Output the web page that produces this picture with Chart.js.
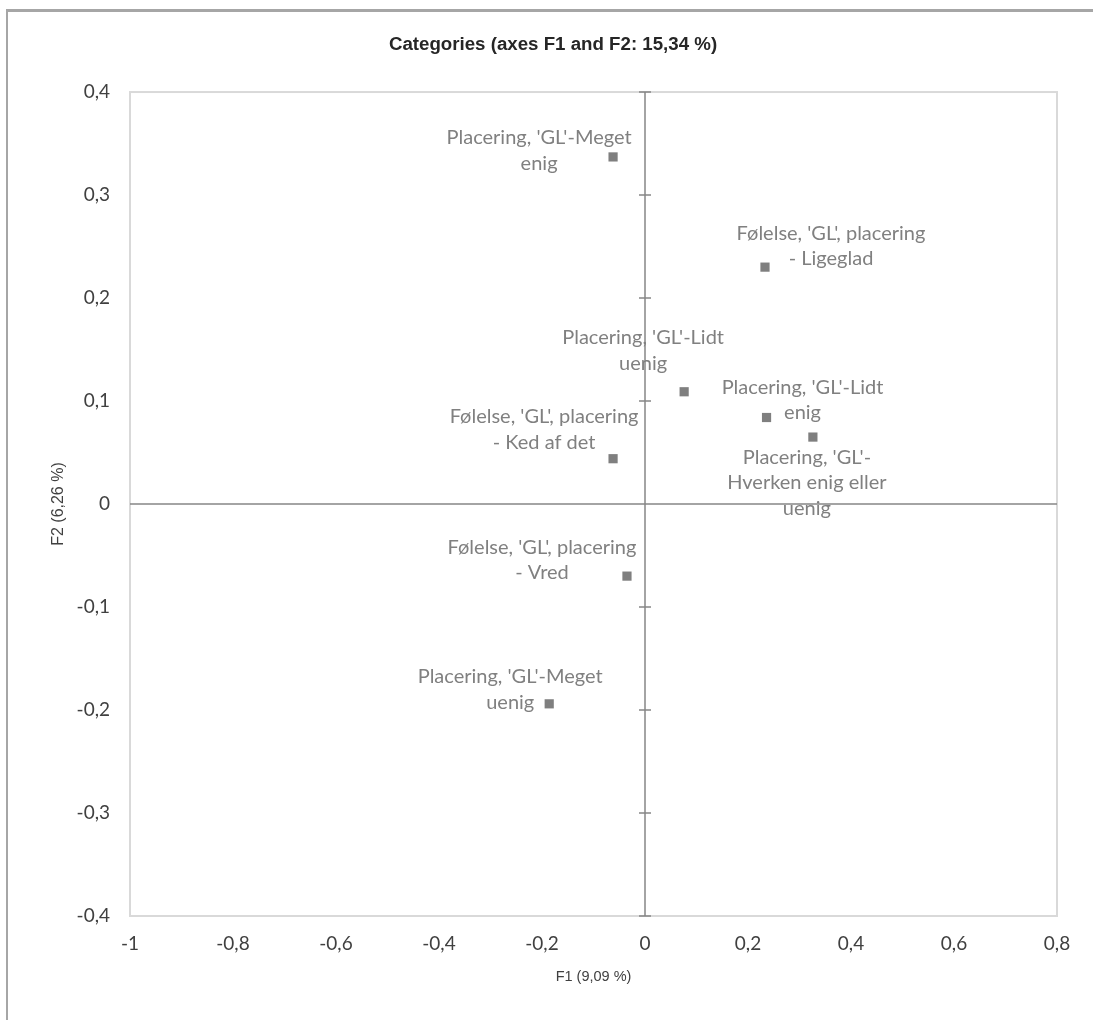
<!DOCTYPE html>
<html>
<head>
<meta charset="utf-8">
<script src="https://cdn.jsdelivr.net/npm/chart.js@4.4.1/dist/chart.umd.min.js"></script>
<style>
  html, body { margin: 0; padding: 0; background: #fff; }
  #wrap { position: relative; width: 1093px; height: 1020px; overflow: hidden; }
  #frame { position: absolute; left: 6px; top: 9px; width: 1200px; height: 1100px;
           border-top: 3px solid #a6a6a6; border-left: 2px solid #a6a6a6; }
  canvas { position: absolute; left: 0; top: 0; }
</style>
</head>
<body>
<div id="wrap">
  <div id="frame"></div>
  <canvas id="chart" width="1093" height="1020"></canvas>
</div>
<script>
// category labels (as wrapped in the original)
const categories = [
  ["Placering, 'GL'-Meget", "enig"],
  ["Følelse, 'GL', placering", "- Ligeglad"],
  ["Placering, 'GL'-Lidt", "uenig"],
  ["Placering, 'GL'-Lidt", "enig"],
  ["Placering, 'GL'-", "Hverken enig eller", "uenig"],
  ["Følelse, 'GL', placering", "- Ked af det"],
  ["Følelse, 'GL', placering", "- Vred"],
  ["Placering, 'GL'-Meget", "uenig"]
];
const f1Values = [-0.062, 0.233, 0.076, 0.236, 0.326, -0.062, -0.035, -0.186];
const f2Values = [0.337, 0.230, 0.109, 0.084, 0.065, 0.044, -0.070, -0.194];

const xTickValues = [-1, -0.8, -0.6, -0.4, -0.2, 0, 0.2, 0.4, 0.6, 0.8];
const xTickLabels = ['-1', '-0,8', '-0,6', '-0,4', '-0,2', '0', '0,2', '0,4', '0,6', '0,8'];
const yTickValues = [-0.4, -0.3, -0.2, -0.1, 0, 0.1, 0.2, 0.3, 0.4];
const yTickLabels = ['-0,4', '-0,3', '-0,2', '-0,1', '0', '0,1', '0,2', '0,3', '0,4'];

// label placement relative to each point: [dx of text centre, dy of first line]
const labelOffsets = [[-74, -19], [66, -34], [-41, -54], [36, -30], [-6, 20], [-69, -42], [-85, -29], [-39, -27]];

const points = f1Values.map((v, i) => ({ x: v, y: f2Values[i] }));

const quadrantPlugin = {
  id: 'quadrant',
  beforeDatasetsDraw(chart) {
    const { ctx, chartArea: a, scales: { x, y } } = chart;
    ctx.save();
    ctx.strokeStyle = '#d9d9d9';
    ctx.lineWidth = 2;
    ctx.strokeRect(a.left, a.top, a.right - a.left, a.bottom - a.top);
    const x0 = x.getPixelForValue(0), y0 = y.getPixelForValue(0);
    ctx.strokeStyle = '#868686';
    ctx.lineWidth = 1.5;
    ctx.beginPath();
    ctx.moveTo(a.left, y0); ctx.lineTo(a.right, y0);
    ctx.moveTo(x0, a.top); ctx.lineTo(x0, a.bottom);
    yTickValues.forEach(v => {
      const py = y.getPixelForValue(v);
      ctx.moveTo(x0 - 6, py); ctx.lineTo(x0 + 6, py);
    });
    ctx.stroke();
    ctx.restore();
  },
  afterDatasetsDraw(chart) {
    const { ctx } = chart;
    const meta = chart.getDatasetMeta(0);
    ctx.save();
    ctx.font = '20px Lato';
    ctx.fillStyle = '#808080';
    ctx.textAlign = 'center';
    ctx.textBaseline = 'middle';
    meta.data.forEach((pt, i) => {
      const [dx, dy] = labelOffsets[i];
      categories[i].forEach((line, k) => {
        ctx.fillText(line, pt.x + dx, pt.y + dy + k * 25.5);
      });
    });
    ctx.restore();
  }
};

new Chart(document.getElementById('chart'), {
  type: 'scatter',
  data: {
    datasets: [{
      data: points,
      pointStyle: 'rect',
      pointRadius: 6.5,
      pointBackgroundColor: '#7f7f7f',
      pointBorderWidth: 0
    }]
  },
  options: {
    responsive: false,
    animation: false,
    layout: { padding: { left: 49, right: 36, top: 0, bottom: 0 } },
    plugins: {
      legend: { display: false },
      tooltip: { enabled: false },
      title: {
        display: true,
        text: 'Categories (axes F1 and F2: 15,34 %)',
        color: '#262626',
        font: { family: 'Liberation Sans', size: 18.7, weight: 'bold' },
        padding: { top: 34, bottom: 35.6 }
      }
    },
    scales: {
      x: {
        type: 'linear',
        min: -1, max: 0.8,
        afterBuildTicks: s => { s.ticks = xTickValues.map(v => ({ value: v })); },
        afterFit: s => { s.height = 104; },
        grid: { display: false, drawTicks: false },
        border: { display: false },
        ticks: {
          padding: 16.6,
          color: '#404040',
          font: { family: 'Lato', size: 19 },
          callback: (v, i) => xTickLabels[i]
        },
        title: {
          display: true,
          text: 'F1 (9,09 %)',
          color: '#404040',
          font: { family: 'Liberation Sans', size: 14.5 },
          padding: { top: 0, bottom: 34 }
        }
      },
      y: {
        type: 'linear',
        min: -0.4, max: 0.4,
        afterBuildTicks: s => { s.ticks = yTickValues.map(v => ({ value: v })); },
        afterFit: s => { s.width = 81; },
        grid: { display: false, drawTicks: false },
        border: { display: false },
        ticks: {
          padding: 20,
          color: '#404040',
          font: { family: 'Lato', size: 19 },
          callback: (v, i) => yTickLabels[i]
        },
        title: {
          display: true,
          text: 'F2 (6,26 %)',
          color: '#404040',
          font: { family: 'Liberation Sans', size: 16 },
          padding: { top: 0, bottom: 0 }
        }
      }
    }
  },
  plugins: [quadrantPlugin]
});
</script>
</body>
</html>
